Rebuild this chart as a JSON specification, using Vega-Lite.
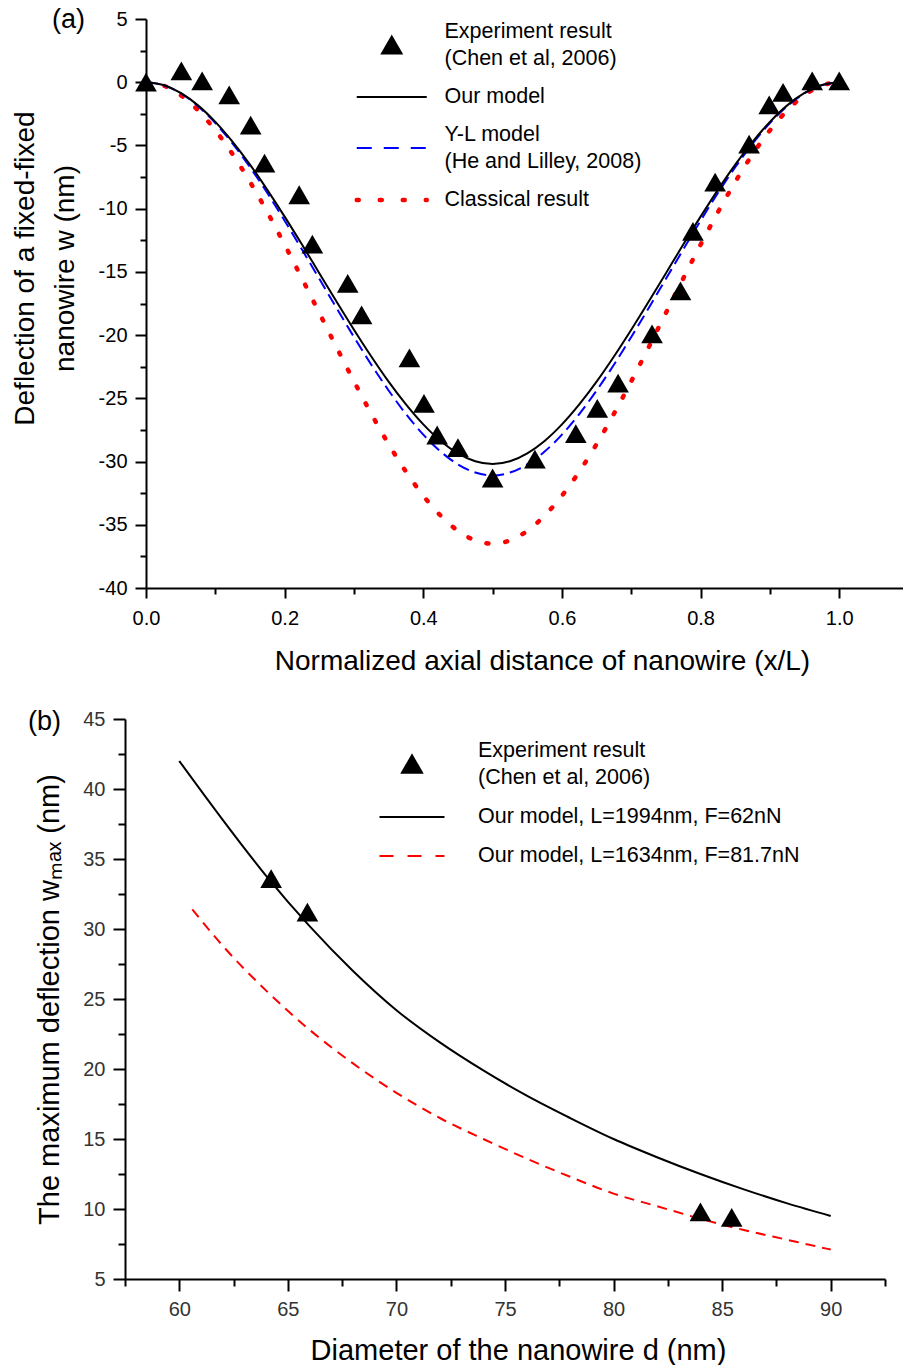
{
  "$schema": "https://vega.github.io/schema/vega-lite/v6.json",
  "padding": {"left": 10, "top": 6, "right": 0, "bottom": 0},
  "background": "white",
  "spacing": 33,
  "resolve": {"scale": {"color": "independent"}, "legend": {"color": "independent"}},
  "config": {
    "view": {"stroke": null},
    "font": "Liberation Sans",
    "axis": {
      "domainColor": "black", "domainWidth": 2, "tickColor": "black", "tickWidth": 2,
      "grid": false, "labelFont": "Liberation Sans", "titleFont": "Liberation Sans",
      "labelFontSize": 20, "titleFontSize": 28, "titleFontWeight": "normal",
      "titleColor": "black", "labelColor": "black", "labelOverlap": false, "labelFlush": false
    },
    "legend": {
      "orient": "none", "title": null, "padding": 0, "rowPadding": 16, "symbolSize": 400,
      "labelFontSize": 21.5, "labelFont": "Liberation Sans", "labelColor": "black", "labelLimit": 0
    },
    "title": {"font": "Liberation Sans", "fontSize": 27, "fontWeight": "normal", "color": "black", "anchor": "start", "frame": "group", "offset": 0}
  },
  "datasets": {
    "curvesA": [
      {"x": 0, "w": 0, "series": "our"}, {"x": 0.025, "w": -0.22, "series": "our"}, {"x": 0.05, "w": -0.85, "series": "our"}, {"x": 0.075, "w": -1.83, "series": "our"}, {"x": 0.1, "w": -3.14, "series": "our"}, {"x": 0.125, "w": -4.72, "series": "our"}, {"x": 0.15, "w": -6.52, "series": "our"}, {"x": 0.175, "w": -8.51, "series": "our"}, {"x": 0.2, "w": -10.63, "series": "our"}, {"x": 0.225, "w": -12.84, "series": "our"}, {"x": 0.25, "w": -15.1, "series": "our"}, {"x": 0.275, "w": -17.36, "series": "our"}, {"x": 0.3, "w": -19.57, "series": "our"}, {"x": 0.325, "w": -21.69, "series": "our"}, {"x": 0.35, "w": -23.68, "series": "our"}, {"x": 0.375, "w": -25.48, "series": "our"}, {"x": 0.4, "w": -27.06, "series": "our"}, {"x": 0.425, "w": -28.37, "series": "our"}, {"x": 0.45, "w": -29.35, "series": "our"}, {"x": 0.475, "w": -29.98, "series": "our"}, {"x": 0.5, "w": -30.2, "series": "our"},
      {"x": 0.525, "w": -29.98, "series": "our"}, {"x": 0.55, "w": -29.35, "series": "our"}, {"x": 0.575, "w": -28.37, "series": "our"}, {"x": 0.6, "w": -27.06, "series": "our"}, {"x": 0.625, "w": -25.48, "series": "our"}, {"x": 0.65, "w": -23.68, "series": "our"}, {"x": 0.675, "w": -21.69, "series": "our"}, {"x": 0.7, "w": -19.57, "series": "our"}, {"x": 0.725, "w": -17.36, "series": "our"}, {"x": 0.75, "w": -15.1, "series": "our"}, {"x": 0.775, "w": -12.84, "series": "our"}, {"x": 0.8, "w": -10.63, "series": "our"}, {"x": 0.825, "w": -8.51, "series": "our"}, {"x": 0.85, "w": -6.52, "series": "our"}, {"x": 0.875, "w": -4.72, "series": "our"}, {"x": 0.9, "w": -3.14, "series": "our"}, {"x": 0.925, "w": -1.83, "series": "our"}, {"x": 0.95, "w": -0.85, "series": "our"}, {"x": 0.975, "w": -0.22, "series": "our"}, {"x": 1.0, "w": 0, "series": "our"},
      {"x": 0, "w": 0, "series": "yl"}, {"x": 0.025, "w": -0.23, "series": "yl"}, {"x": 0.05, "w": -0.87, "series": "yl"}, {"x": 0.075, "w": -1.89, "series": "yl"}, {"x": 0.1, "w": -3.23, "series": "yl"}, {"x": 0.125, "w": -4.86, "series": "yl"}, {"x": 0.15, "w": -6.72, "series": "yl"}, {"x": 0.175, "w": -8.76, "series": "yl"}, {"x": 0.2, "w": -10.95, "series": "yl"}, {"x": 0.225, "w": -13.23, "series": "yl"}, {"x": 0.25, "w": -15.55, "series": "yl"}, {"x": 0.275, "w": -17.87, "series": "yl"}, {"x": 0.3, "w": -20.15, "series": "yl"}, {"x": 0.325, "w": -22.34, "series": "yl"}, {"x": 0.35, "w": -24.38, "series": "yl"}, {"x": 0.375, "w": -26.24, "series": "yl"}, {"x": 0.4, "w": -27.87, "series": "yl"}, {"x": 0.425, "w": -29.21, "series": "yl"}, {"x": 0.45, "w": -30.23, "series": "yl"}, {"x": 0.475, "w": -30.87, "series": "yl"}, {"x": 0.5, "w": -31.1, "series": "yl"},
      {"x": 0.525, "w": -30.87, "series": "yl"}, {"x": 0.55, "w": -30.23, "series": "yl"}, {"x": 0.575, "w": -29.21, "series": "yl"}, {"x": 0.6, "w": -27.87, "series": "yl"}, {"x": 0.625, "w": -26.24, "series": "yl"}, {"x": 0.65, "w": -24.38, "series": "yl"}, {"x": 0.675, "w": -22.34, "series": "yl"}, {"x": 0.7, "w": -20.15, "series": "yl"}, {"x": 0.725, "w": -17.87, "series": "yl"}, {"x": 0.75, "w": -15.55, "series": "yl"}, {"x": 0.775, "w": -13.23, "series": "yl"}, {"x": 0.8, "w": -10.95, "series": "yl"}, {"x": 0.825, "w": -8.76, "series": "yl"}, {"x": 0.85, "w": -6.72, "series": "yl"}, {"x": 0.875, "w": -4.86, "series": "yl"}, {"x": 0.9, "w": -3.23, "series": "yl"}, {"x": 0.925, "w": -1.89, "series": "yl"}, {"x": 0.95, "w": -0.87, "series": "yl"}, {"x": 0.975, "w": -0.23, "series": "yl"}, {"x": 1.0, "w": 0, "series": "yl"},
      {"x": 0, "w": 0, "series": "cl"}, {"x": 0.025, "w": -0.26, "series": "cl"}, {"x": 0.05, "w": -1.02, "series": "cl"}, {"x": 0.075, "w": -2.22, "series": "cl"}, {"x": 0.1, "w": -3.8, "series": "cl"}, {"x": 0.125, "w": -5.7, "series": "cl"}, {"x": 0.15, "w": -7.88, "series": "cl"}, {"x": 0.175, "w": -10.28, "series": "cl"}, {"x": 0.2, "w": -12.85, "series": "cl"}, {"x": 0.225, "w": -15.52, "series": "cl"}, {"x": 0.25, "w": -18.25, "series": "cl"}, {"x": 0.275, "w": -20.98, "series": "cl"}, {"x": 0.3, "w": -23.65, "series": "cl"}, {"x": 0.325, "w": -26.22, "series": "cl"}, {"x": 0.35, "w": -28.62, "series": "cl"}, {"x": 0.375, "w": -30.8, "series": "cl"}, {"x": 0.4, "w": -32.7, "series": "cl"}, {"x": 0.425, "w": -34.28, "series": "cl"}, {"x": 0.45, "w": -35.48, "series": "cl"}, {"x": 0.475, "w": -36.24, "series": "cl"}, {"x": 0.5, "w": -36.5, "series": "cl"},
      {"x": 0.525, "w": -36.24, "series": "cl"}, {"x": 0.55, "w": -35.48, "series": "cl"}, {"x": 0.575, "w": -34.28, "series": "cl"}, {"x": 0.6, "w": -32.7, "series": "cl"}, {"x": 0.625, "w": -30.8, "series": "cl"}, {"x": 0.65, "w": -28.62, "series": "cl"}, {"x": 0.675, "w": -26.22, "series": "cl"}, {"x": 0.7, "w": -23.65, "series": "cl"}, {"x": 0.725, "w": -20.98, "series": "cl"}, {"x": 0.75, "w": -18.25, "series": "cl"}, {"x": 0.775, "w": -15.52, "series": "cl"}, {"x": 0.8, "w": -12.85, "series": "cl"}, {"x": 0.825, "w": -10.28, "series": "cl"}, {"x": 0.85, "w": -7.88, "series": "cl"}, {"x": 0.875, "w": -5.7, "series": "cl"}, {"x": 0.9, "w": -3.8, "series": "cl"}, {"x": 0.925, "w": -2.22, "series": "cl"}, {"x": 0.95, "w": -1.02, "series": "cl"}, {"x": 0.975, "w": -0.26, "series": "cl"}, {"x": 1.0, "w": 0, "series": "cl"}
    ],
    "expA": [
      {"x": 0, "w": 0, "series": "exp"}, {"x": 0.051, "w": 0.9, "series": "exp"}, {"x": 0.081, "w": 0.1, "series": "exp"}, {"x": 0.12, "w": -1.0, "series": "exp"}, {"x": 0.151, "w": -3.4, "series": "exp"}, {"x": 0.171, "w": -6.4, "series": "exp"}, {"x": 0.221, "w": -8.9, "series": "exp"}, {"x": 0.24, "w": -12.8, "series": "exp"}, {"x": 0.291, "w": -15.9, "series": "exp"}, {"x": 0.311, "w": -18.4, "series": "exp"}, {"x": 0.38, "w": -21.8, "series": "exp"}, {"x": 0.401, "w": -25.4, "series": "exp"}, {"x": 0.42, "w": -27.9, "series": "exp"}, {"x": 0.45, "w": -28.9, "series": "exp"}, {"x": 0.5, "w": -31.3, "series": "exp"}, {"x": 0.561, "w": -29.8, "series": "exp"}, {"x": 0.62, "w": -27.8, "series": "exp"}, {"x": 0.651, "w": -25.8, "series": "exp"}, {"x": 0.681, "w": -23.8, "series": "exp"}, {"x": 0.73, "w": -19.9, "series": "exp"}, {"x": 0.771, "w": -16.5, "series": "exp"}, {"x": 0.789, "w": -11.8, "series": "exp"}, {"x": 0.821, "w": -7.9, "series": "exp"}, {"x": 0.87, "w": -4.9, "series": "exp"}, {"x": 0.899, "w": -1.8, "series": "exp"}, {"x": 0.919, "w": -0.8, "series": "exp"}, {"x": 0.961, "w": 0.1, "series": "exp"}, {"x": 1.0, "w": 0.1, "series": "exp"}
    ],
    "curvesB": [
      {"d": 60, "w": 42.0, "series": "m1"}, {"d": 62, "w": 37.8, "series": "m1"}, {"d": 64, "w": 33.8, "series": "m1"}, {"d": 66, "w": 30.2, "series": "m1"}, {"d": 68, "w": 27.0, "series": "m1"}, {"d": 70, "w": 24.2, "series": "m1"}, {"d": 72, "w": 21.9, "series": "m1"}, {"d": 74, "w": 19.9, "series": "m1"}, {"d": 76, "w": 18.1, "series": "m1"}, {"d": 78, "w": 16.5, "series": "m1"}, {"d": 80, "w": 15.0, "series": "m1"}, {"d": 82, "w": 13.7, "series": "m1"}, {"d": 84, "w": 12.5, "series": "m1"}, {"d": 86, "w": 11.4, "series": "m1"}, {"d": 88, "w": 10.4, "series": "m1"}, {"d": 90, "w": 9.5, "series": "m1"},
      {"d": 60.6, "w": 31.4, "series": "m2"}, {"d": 62, "w": 28.8, "series": "m2"}, {"d": 64, "w": 25.6, "series": "m2"}, {"d": 66, "w": 22.8, "series": "m2"}, {"d": 68, "w": 20.4, "series": "m2"}, {"d": 70, "w": 18.3, "series": "m2"}, {"d": 72, "w": 16.5, "series": "m2"}, {"d": 74, "w": 15.0, "series": "m2"}, {"d": 76, "w": 13.6, "series": "m2"}, {"d": 78, "w": 12.3, "series": "m2"}, {"d": 80, "w": 11.1, "series": "m2"}, {"d": 82, "w": 10.2, "series": "m2"}, {"d": 84, "w": 9.3, "series": "m2"}, {"d": 86, "w": 8.5, "series": "m2"}, {"d": 88, "w": 7.8, "series": "m2"}, {"d": 90, "w": 7.1, "series": "m2"}
    ],
    "expB": [
      {"d": 64.23, "w": 33.6, "series": "exp"}, {"d": 65.9, "w": 31.2, "series": "exp"}, {"d": 84.0, "w": 9.8, "series": "exp"}, {"d": 85.44, "w": 9.4, "series": "exp"}
    ]
  },
  "vconcat": [
    {
      "width": 757, "height": 569,
      "title": {"text": "(a)", "dx": -94, "dy": 29},
      "encoding": {
        "x": {"field": "x", "type": "quantitative", "scale": {"domain": [0, 1.092], "nice": false, "zero": false},
          "axis": {"values": [0, 0.1, 0.2, 0.3, 0.4, 0.5, 0.6, 0.7, 0.8, 0.9, 1.0],
            "labelExpr": "round(datum.value*10) % 2 == 0 ? format(datum.value, '.1f') : ''",
            "tickSize": {"condition": {"test": "round(datum.value*10) % 2 == 0", "value": 10}, "value": 6},
            "labelPadding": 10,
            "title": "Normalized axial distance of nanowire (x/L)", "titleX": 396, "titleY": 81, "titleBaseline": "alphabetic", "titleAlign": "center"}},
        "y": {"field": "w", "type": "quantitative", "scale": {"domain": [-40, 5], "nice": false, "zero": false},
          "axis": {"values": [-40, -37.5, -35, -32.5, -30, -27.5, -25, -22.5, -20, -17.5, -15, -12.5, -10, -7.5, -5, -2.5, 0, 2.5, 5],
            "labelExpr": "datum.value % 5 == 0 ? toString(datum.value) : ''",
            "tickSize": {"condition": {"test": "datum.value % 5 == 0", "value": 11}, "value": 6},
            "labelPadding": 8,
            "title": ["Deflection of a fixed-fixed", "nanowire w (nm)"], "titleX": -113, "titleY": 249, "titleAlign": "center", "titleBaseline": "alphabetic", "titleLineHeight": 40}},
        "color": {"field": "series", "type": "nominal",
          "scale": {"domain": ["exp", "our", "yl", "cl"], "range": ["#000000", "#000000", "#0000ff", "#ff0000"]},
          "legend": {"legendX": 235, "legendY": 2, "labelOffset": 42, "rowPadding": 15,
            "labelExpr": "datum.value == 'exp' ? ['Experiment result', '(Chen et al, 2006)'] : datum.value == 'our' ? 'Our model' : datum.value == 'yl' ? ['Y-L model', '(He and Lilley, 2008)'] : 'Classical result'",
            "encode": {
              "labels": {"update": {"lineHeight": {"value": 27}}},
              "symbols": {"update": {
                "y": {"signal": "(datum.value == 'exp' || datum.value == 'yl') ? 24 : 11"},
                "shape": {"signal": "datum.value == 'exp' ? 'triangle-up' : 'M-3.5,0H3.5'"},
                "size": {"signal": "datum.value == 'exp' ? 380 : 400"},
                "fill": {"signal": "datum.value == 'exp' ? '#000000' : 'transparent'"},
                "stroke": {"signal": "datum.value == 'exp' ? 'transparent' : datum.value == 'yl' ? '#0000ff' : datum.value == 'cl' ? '#ff0000' : '#000000'"},
                "strokeDash": {"signal": "datum.value == 'yl' ? [15, 12] : datum.value == 'cl' ? [2, 21] : [1, 0]"},
                "strokeCap": {"signal": "datum.value == 'cl' ? 'round' : 'butt'"},
                "strokeWidth": {"signal": "datum.value == 'cl' ? 4.5 : 2"},
                "opacity": {"value": 1}
              }}
            }}}
      },
      "layer": [
        {"data": {"name": "curvesA"}, "transform": [{"filter": "datum.series == 'cl'"}],
          "mark": {"type": "line", "strokeWidth": 4.5, "strokeDash": [2, 17], "strokeCap": "round", "interpolate": "monotone"}},
        {"data": {"name": "curvesA"}, "transform": [{"filter": "datum.series == 'yl'"}],
          "mark": {"type": "line", "strokeWidth": 2, "strokeDash": [12, 6], "interpolate": "monotone"}},
        {"data": {"name": "curvesA"}, "transform": [{"filter": "datum.series == 'our'"}],
          "mark": {"type": "line", "strokeWidth": 2, "interpolate": "monotone"}},
        {"data": {"name": "expA"},
          "mark": {"type": "point", "shape": "triangle-up", "filled": true, "size": 470, "opacity": 1}}
      ]
    },
    {
      "width": 739, "height": 560,
      "title": {"text": "(b)", "dx": -118, "dy": 31},
      "encoding": {
        "x": {"field": "d", "type": "quantitative", "scale": {"domain": [57.5, 92.5], "range": [-21, 739], "nice": false, "zero": false},
          "axis": {"values": [57.5, 60, 62.5, 65, 67.5, 70, 72.5, 75, 77.5, 80, 82.5, 85, 87.5, 90, 92.5],
            "labelExpr": "datum.value % 5 == 0 ? toString(datum.value) : ''",
            "tickSize": {"condition": {"test": "datum.value % 5 == 0", "value": 12}, "value": 7},
            "labelPadding": 8, "labelColor": "#333333",
            "title": "Diameter of the nanowire d (nm)", "titleFontSize": 29, "titleX": 372, "titleY": 80, "titleBaseline": "alphabetic", "titleAlign": "center"}},
        "y": {"field": "w", "type": "quantitative", "scale": {"domain": [5, 45], "nice": false, "zero": false},
          "axis": {"values": [5, 7.5, 10, 12.5, 15, 17.5, 20, 22.5, 25, 27.5, 30, 32.5, 35, 37.5, 40, 42.5, 45],
            "offset": 21,
            "labelExpr": "datum.value % 5 == 0 ? toString(datum.value) : ''",
            "tickSize": {"condition": {"test": "datum.value % 5 == 0", "value": 12}, "value": 7},
            "labelPadding": 8, "labelColor": "#333333",
            "title": "The maximum deflection wₘₐₓ (nm)", "titleFontSize": 29, "titleX": -67, "titleY": 280, "titleAlign": "center", "titleBaseline": "alphabetic"}},
        "color": {"field": "series", "type": "nominal",
          "scale": {"domain": ["exp", "m1", "m2"], "range": ["#000000", "#000000", "#ff0000"]},
          "legend": {"legendX": 255, "legendY": 21, "labelOffset": 55, "rowPadding": 17,
            "labelExpr": "datum.value == 'exp' ? ['Experiment result', '(Chen et al, 2006)'] : datum.value == 'm1' ? 'Our model, L=1994nm, F=62nN' : 'Our model, L=1634nm, F=81.7nN'",
            "encode": {
              "labels": {"update": {"lineHeight": {"value": 27}}},
              "symbols": {"update": {
                "y": {"signal": "datum.value == 'exp' ? 24 : 11"},
                "shape": {"signal": "datum.value == 'exp' ? 'triangle-up' : 'M-3.25,0H3.25'"},
                "size": {"value": 400},
                "fill": {"signal": "datum.value == 'exp' ? '#000000' : 'transparent'"},
                "stroke": {"signal": "datum.value == 'exp' ? 'transparent' : datum.value == 'm2' ? '#ff0000' : '#000000'"},
                "strokeDash": {"signal": "datum.value == 'm2' ? [14, 14] : [1, 0]"},
                "strokeWidth": {"value": 2},
                "opacity": {"value": 1}
              }}
            }}}
      },
      "layer": [
        {"data": {"name": "curvesB"}, "transform": [{"filter": "datum.series == 'm2'"}],
          "mark": {"type": "line", "strokeWidth": 2, "strokeDash": [10, 7], "interpolate": "monotone"}},
        {"data": {"name": "curvesB"}, "transform": [{"filter": "datum.series == 'm1'"}],
          "mark": {"type": "line", "strokeWidth": 2, "interpolate": "monotone"}},
        {"data": {"name": "expB"},
          "mark": {"type": "point", "shape": "triangle-up", "filled": true, "size": 470, "opacity": 1}}
      ]
    }
  ]
}
